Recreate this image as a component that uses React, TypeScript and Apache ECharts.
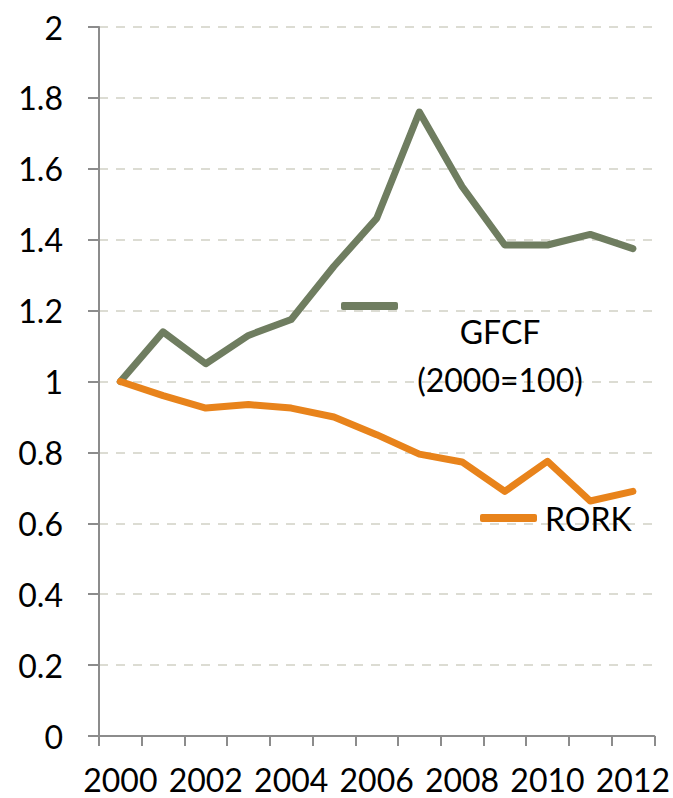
import React, { useEffect, useRef } from "react";
import * as echarts from "echarts";

const years = ["2000","2001","2002","2003","2004","2005","2006","2007","2008","2009","2010","2011","2012"];
const gfcf = [1.0, 1.14, 1.05, 1.13, 1.175, 1.325, 1.46, 1.76, 1.55, 1.385, 1.385, 1.415, 1.375];
const rork = [1.0, 0.96, 0.925, 0.935, 0.925, 0.9, 0.85, 0.795, 0.773, 0.69, 0.775, 0.663, 0.69];
const gfcfName = "GFCF (2000=100)";
const rorkName = "RORK";

const FONT = "Lato, 'Open Sans', sans-serif";
const FS = 32;
const GREEN = "#6f7d60";
const ORANGE = "#e8831b";
const AXIS = "#8c8c8c";

export default function App() {
  const ref = useRef<HTMLDivElement>(null);
  useEffect(() => {
    if (!ref.current) return;
    const chart = echarts.init(ref.current, null, { renderer: "svg" });
    chart.setOption({
      animation: false,
      backgroundColor: "#ffffff",
      textStyle: { fontFamily: FONT },
      grid: { left: 99, right: 18, top: 27, bottom: 62, containLabel: false },
      legend: [
        {
          data: [gfcfName],
          left: 341,
          top: 302,
          padding: 0,
          icon: "roundRect",
          itemWidth: 57,
          itemHeight: 8,
          itemGap: 0,
          selectedMode: false,
          formatter: () => "{a|GFCF}\n{a|(2000=100)}",
          textStyle: {
            padding: [98, 0, 0, 11],
            rich: {
              a: { fontFamily: FONT, fontSize: FS, color: "#000", width: 172, align: "center", lineHeight: 48 },
            },
          },
        },
        {
          data: [rorkName],
          left: 480,
          top: 502,
          padding: 0,
          icon: "roundRect",
          itemWidth: 57,
          itemHeight: 8,
          selectedMode: false,
          textStyle: { fontFamily: FONT, fontSize: FS, color: "#000", padding: [6, 0, 0, 3] },
        },
      ],
      xAxis: {
        type: "category",
        data: years,
        boundaryGap: true,
        axisLine: { show: true, lineStyle: { color: AXIS, width: 2 } },
        axisTick: { show: true, interval: 0, length: 10, lineStyle: { color: AXIS, width: 2 } },
        axisLabel: { interval: 1, margin: 27, fontFamily: FONT, fontSize: FS, color: "#000" },
        splitLine: { show: false },
      },
      yAxis: {
        type: "value",
        min: 0,
        max: 2,
        interval: 0.2,
        axisLine: { show: true, lineStyle: { color: AXIS, width: 2 } },
        axisTick: { show: true, length: 11, lineStyle: { color: AXIS, width: 2 } },
        axisLabel: {
          margin: 36,
          fontFamily: FONT,
          fontSize: FS,
          color: "#000",
          formatter: (v: number) => String(Math.round(v * 10) / 10),
        },
        splitLine: { show: true, lineStyle: { color: "#dcdcd3", width: 2, type: [9, 8] } },
      },
      series: [
        {
          name: gfcfName,
          type: "line",
          data: gfcf,
          symbol: "none",
          color: GREEN,
          lineStyle: { color: GREEN, width: 7, cap: "round", join: "round" },
        },
        {
          name: rorkName,
          type: "line",
          data: rork,
          symbol: "none",
          color: ORANGE,
          lineStyle: { color: ORANGE, width: 7, cap: "round", join: "round" },
        },
      ],
    });
    return () => chart.dispose();
  }, []);
  return <div ref={ref} style={{ width: 673, height: 798, position: "absolute", left: 0, top: 0 }} />;
}
